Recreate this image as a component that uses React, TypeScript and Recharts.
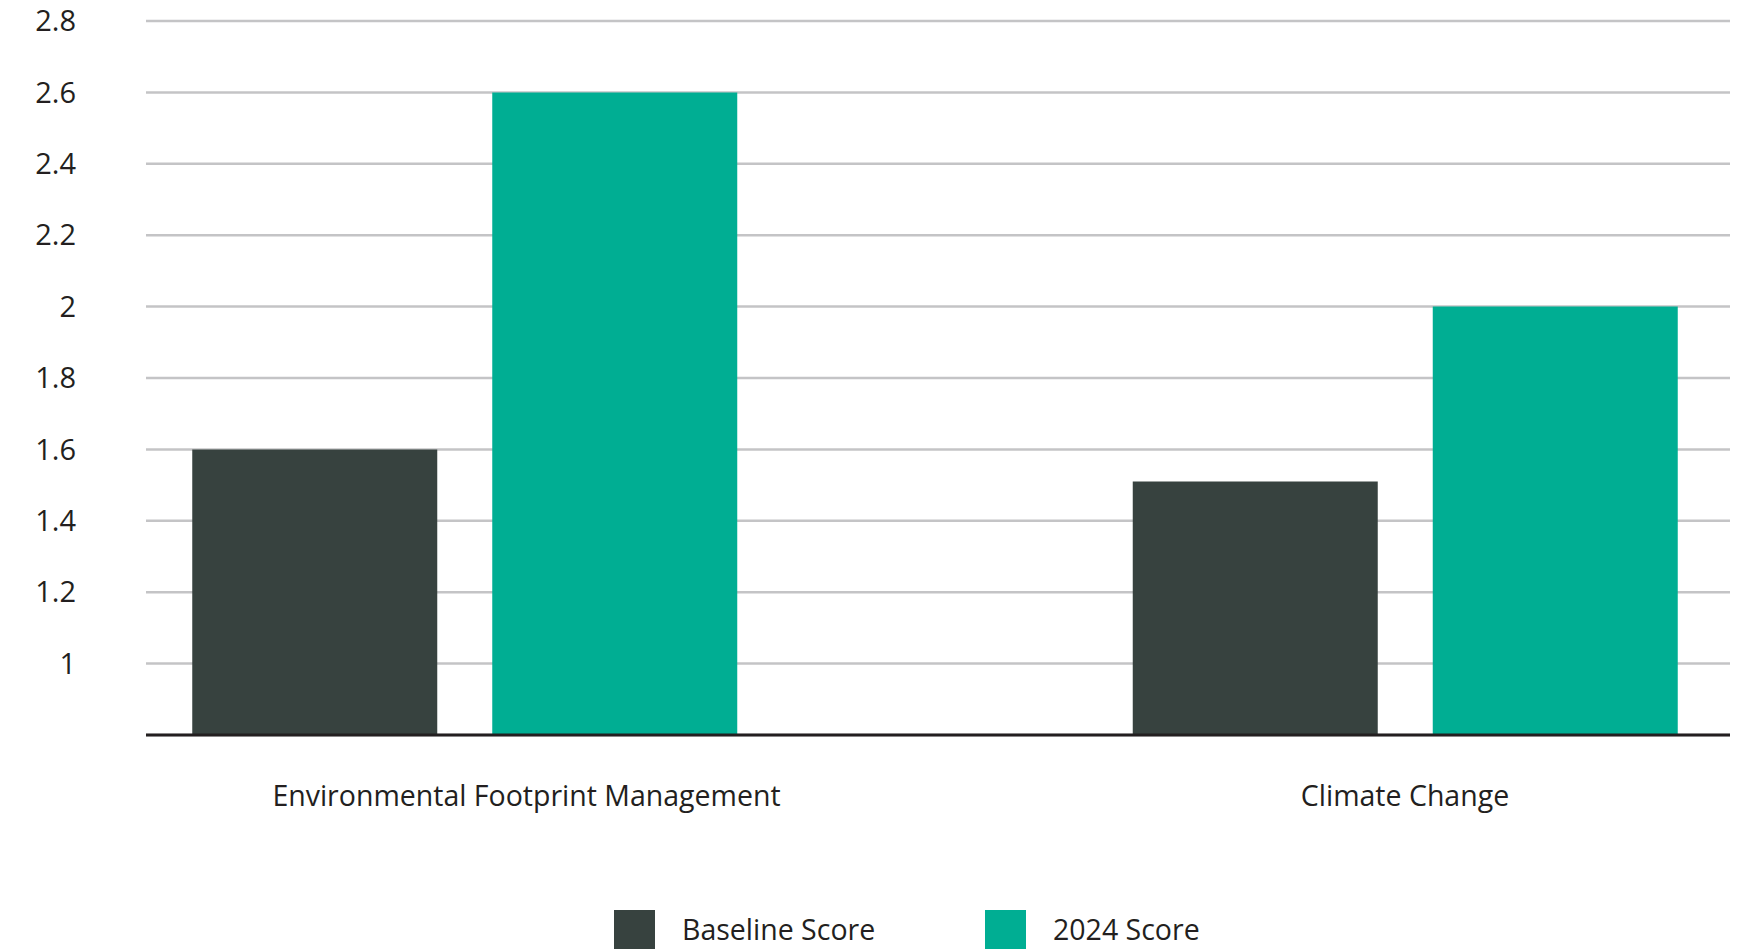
import React from 'react';
import { BarChart, Bar, XAxis, YAxis, CartesianGrid } from 'recharts';

const categories = ['Environmental Footprint Management', 'Climate Change'];
const baselineScores = [1.6, 1.51];
const scores2024 = [2.6, 2.0];
const yTicks = [0.8, 1, 1.2, 1.4, 1.6, 1.8, 2, 2.2, 2.4, 2.6, 2.8];
const seriesNames = ['Baseline Score', '2024 Score'];

const COLORS = ['#37423f', '#00ae93'];
const TEXT = '#231f20';
const FONT = '"Open Sans", sans-serif';

const chartData = categories.map((name, i) => ({
  name,
  baseline: baselineScores[i],
  current: scores2024[i],
}));

// the first label sits a bit right of its bar pair in the original
const TICK_SHIFT = [62, 0];

const CategoryTick = (props: any) => {
  const { x, y, payload, index } = props;
  return (
    <text
      x={x + (TICK_SHIFT[index] || 0)}
      y={y}
      dy="0.71em"
      textAnchor="middle"
      fill={TEXT}
      fontSize={28.5}
      fontFamily={FONT}
    >
      {payload.value}
    </text>
  );
};

export default function App() {
  return (
    <div style={{ position: 'absolute', left: 0, top: 0, width: 1741, height: 949, background: '#fff', overflow: 'hidden' }}>
      <BarChart
        width={1741}
        height={949}
        data={chartData}
        margin={{ top: 21, right: 11, bottom: 154, left: 0 }}
        barGap={55}
      >
        <CartesianGrid vertical={false} stroke="#c4c4c6" strokeWidth={2.5} />
        <XAxis
          dataKey="name"
          height={60}
          padding={{ left: -151.75, right: -145.25 }}
          axisLine={{ stroke: TEXT, strokeWidth: 3 }}
          tickLine={false}
          tickSize={0}
          tickMargin={51}
          tick={<CategoryTick />}
          interval={0}
        />
        <YAxis
          width={146}
          domain={[0.8, 2.8]}
          ticks={yTicks}
          allowDataOverflow
          axisLine={false}
          tickLine={false}
          tickSize={0}
          tickMargin={70}
          tick={{ fill: TEXT, fontSize: 29, fontFamily: FONT }}
          tickFormatter={(v: number) => (v === 0.8 ? '' : String(v))}
        />
        <Bar dataKey="baseline" name={seriesNames[0]} fill={COLORS[0]} barSize={245} isAnimationActive={false} />
        <Bar dataKey="current" name={seriesNames[1]} fill={COLORS[1]} barSize={245} isAnimationActive={false} />
      </BarChart>
      {seriesNames.map((s, i) => (
        <div
          key={s}
          style={{
            position: 'absolute',
            left: 614 + i * 371,
            top: 910,
            display: 'flex',
            alignItems: 'center',
            fontFamily: FONT,
            fontSize: 28.5,
            color: TEXT,
            whiteSpace: 'nowrap',
          }}
        >
          <span style={{ display: 'inline-block', width: 41, height: 41, background: COLORS[i], marginRight: 27 }} />
          <span style={{ position: 'relative', top: -2 }}>{s}</span>
        </div>
      ))}
    </div>
  );
}
